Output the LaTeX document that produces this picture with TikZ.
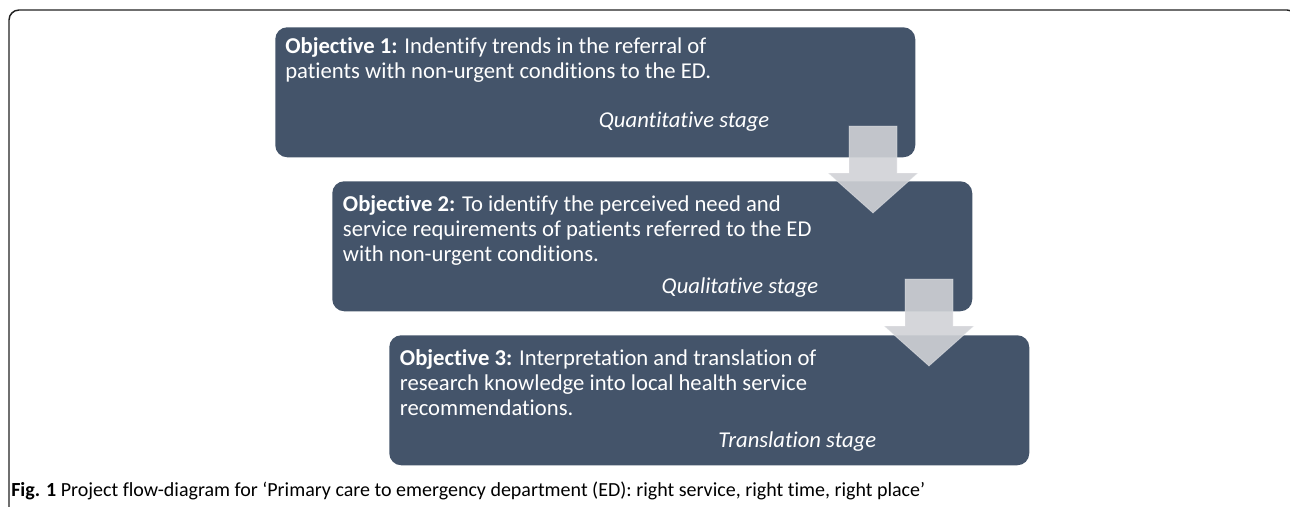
\documentclass[tikz,border=0pt]{standalone}
\usepackage{fontspec}
\setmainfont{Carlito}[Ligatures=NoCommon]
\usetikzlibrary{positioning}

\definecolor{objblue}{HTML}{44546A}
\definecolor{arrowgrey}{RGB}{208,210,214}
\definecolor{framegrey}{HTML}{222222}

\tikzset{
    objbox/.style={fill=objblue, rounded corners=9pt, minimum width=480pt,
        minimum height=97.5pt, inner sep=0pt, anchor=north west},
    objtext/.style={text=white, align=left, inner sep=0pt,
        font=\fontsize{17}{18.75}\selectfont},
    stagetext/.style={text=white, inner sep=0pt,
        font=\fontsize{17}{18}\selectfont\itshape},
    downarrow/.style={fill=arrowgrey, fill opacity=0.9, draw=white,
        draw opacity=0.35, line width=0.6pt}
}

% block arrow: centre x, top y of the shaft
\newcommand{\blockarrow}[2]{%
    \draw[downarrow] (#1-24,#2) -- (#1+24,#2) -- (#1+24,#2+47) -- (#1+45,#2+47)
        -- (#1,#2+87) -- (#1-45,#2+47) -- (#1-24,#2+47) -- cycle;}

\begin{document}
\begin{tikzpicture}[x=0.75pt, y=-0.75pt]
    \useasboundingbox (0,0) rectangle (1290,507);
    \begin{scope}
        \clip (0,0) rectangle (1290,507);
        % Frame round the figure
        \draw[framegrey, line width=1.1pt, rounded corners=7.5pt]
            (9,520) -- (9,10) -- (1297,10) -- (1297,520);
    \end{scope}

    % The three objectives
    \node[objbox] (obj1) at (275,27) {};
    \node[objbox] (obj2) at (332,181) {};
    \node[objbox] (obj3) at (389,335) {};

    \node[objtext, below right=7.5pt and 7.5pt of obj1.north west] (obj1txt)
        {\textbf{Objective 1:} Indentify trends in the referral of\\
         patients with non-urgent conditions to the ED.};
    \node[objtext, below right=10.5pt and 8pt of obj2.north west] (obj2txt)
        {\textbf{Objective 2:} To identify the perceived need and\\
         service requirements of patients referred to the ED\\
         with non-urgent conditions.};
    \node[objtext, below right=10.5pt and 8pt of obj3.north west] (obj3txt)
        {\textbf{Objective 3:} Interpretation and translation of\\
         research knowledge into local health service\\
         recommendations.};

    % Stage labels
    \node[stagetext, above left=22.5pt and 109.5pt of obj1.south east,
        anchor=base east] (obj1stage) {Quantitative stage};
    \node[stagetext, above left=13.5pt and 115.5pt of obj2.south east,
        anchor=base east] (obj2stage) {Qualitative stage};
    \node[stagetext, above left=13.5pt and 114.75pt of obj3.south east,
        anchor=base east] (obj3stage) {Translation stage};

    % Arrows between the stages
    \blockarrow{873}{126}
    \blockarrow{929}{279}

    % Caption
    \node[anchor=base west, inner sep=0pt, font=\fontsize{15}{17}\selectfont]
        (caption) at (11,496)
        {\textbf{Fig. 1} Project flow-diagram for ‘Primary care to emergency
         department (ED): right service, right time, right place’};
\end{tikzpicture}
\end{document}
